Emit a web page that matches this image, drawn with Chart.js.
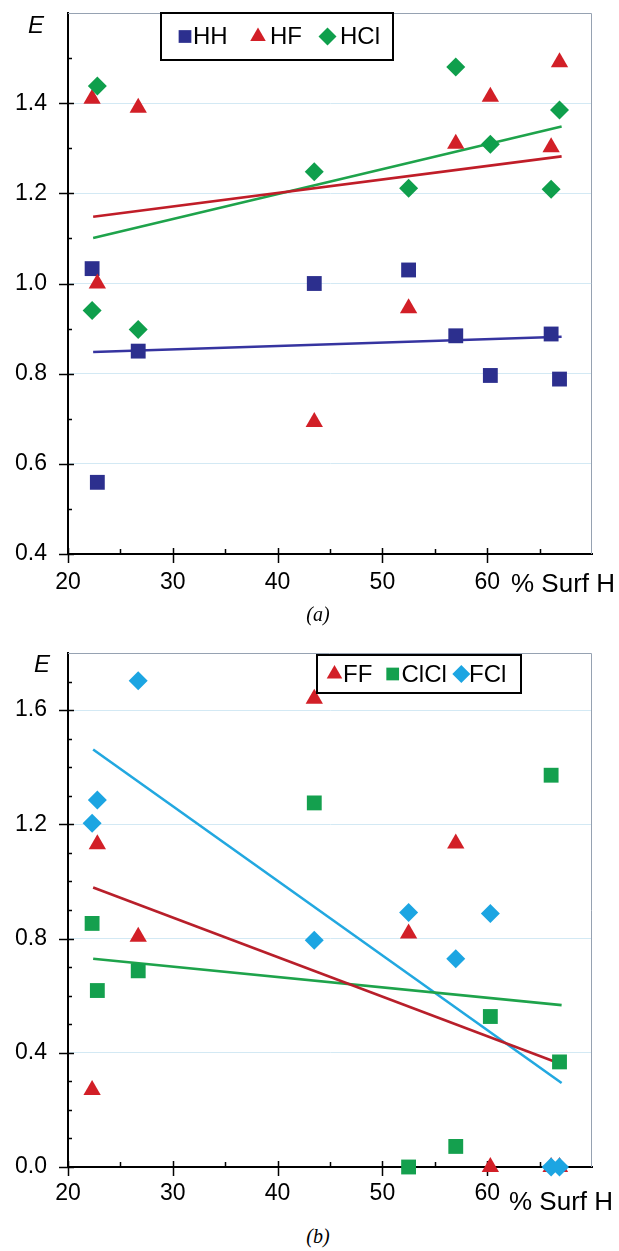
<!DOCTYPE html>
<html>
<head>
<meta charset="utf-8">
<script src="https://cdn.jsdelivr.net/npm/chart.js@4.4.1/dist/chart.umd.min.js"></script>
<style>
  html, body { margin: 0; padding: 0; background: #fff; }
  #page { position: relative; width: 619px; height: 1251px; overflow: hidden; }
  canvas { position: absolute; left: 0; }
  .cap { position: absolute; left: 0; width: 636px; text-align: center;
         font: italic 20px "Liberation Serif", "Times New Roman", serif; line-height: 22px; }
</style>
</head>
<body>
<div id="page">
  <canvas id="chartA" width="619" height="605" style="top:0"></canvas>
  <canvas id="chartB" width="619" height="605" style="top:620px"></canvas>
  <div class="cap" style="top:603px">(a)</div>
  <div class="cap" style="top:1225px">(b)</div>
</div>
<script>
// % Surf H of the nine molecules (shared by every pair)
const surfH = [22.3, 22.8, 26.7, 43.5, 52.5, 57.0, 60.3, 66.1, 66.9];

// panel (a)
const eHH  = [1.033, 0.559, 0.85, 1.0, 1.03, 0.884, 0.796, 0.888, 0.788];
const eHF  = [1.41, 1.0, 1.39, 0.693, 0.945, 1.31, 1.414, 1.302, 1.491];
const eHCl = [0.94, 1.438, 0.898, 1.248, 1.211, 1.48, 1.309, 1.209, 1.385];

// panel (b)
const eFF   = [0.27, 1.13, 0.806, 1.64, 0.818, 1.133, 0.0, 0.0, 0.0];
const eClCl = [0.853, 0.618, 0.687, 1.275, 0.0, 0.072, 0.527, 1.372, 0.368];
const eFCl  = [1.204, 1.285, 1.703, 0.794, 0.891, 0.729, 0.888, 0.0, 0.0];

// trend lines, end points
const trendX    = [22.4, 67.1];
const trendHH   = [0.848, 0.882];
const trendHF   = [1.148, 1.282];
const trendHCl  = [1.101, 1.348];
const trendFF   = [0.979, 0.360];
const trendClCl = [0.729, 0.567];
const trendFCl  = [1.462, 0.294];

// tick labels
const xLabels  = [20, 30, 40, 50, 60];
const yLabelsA = [0.4, 0.6, 0.8, 1.0, 1.2, 1.4];
const yLabelsB = [0.0, 0.4, 0.8, 1.2, 1.6];

const NAVY = '#2c2f8e', RED = '#d21f27', GREEN = '#0f9f4c', CYAN = '#1ca5e2';
const FONT = '"Liberation Sans", Arial, sans-serif';

const pts = (xs, ys) => xs.map((x, i) => ({ x: x, y: ys[i] }));
const near = (list, v) => list.find(l => Math.abs(l - v) < 1e-6);

function marks(label, ys, style, color, r, order) {
    return {
        type: 'scatter', label: label, data: pts(surfH, ys),
        pointStyle: style, pointRadius: r, pointHoverRadius: r,
        backgroundColor: color, borderColor: color, borderWidth: 0,
        order: order, clip: false
    };
}

function trend(ys, color) {
    return {
        type: 'line', label: '', isTrend: true, data: pts(trendX, ys),
        borderColor: color, borderWidth: 2.6, pointRadius: 0, fill: false,
        order: 10, clip: false
    };
}

// frame, tick marks, "E" and "% Surf H"
const axisDeco = {
    id: 'axisDeco',
    beforeDatasetsDraw(chart, args, o) {
        const { ctx, chartArea: a, scales: { x, y } } = chart;
        ctx.save();
        ctx.strokeStyle = '#96a2b2';
        ctx.lineWidth = 1;
        ctx.beginPath();
        ctx.moveTo(a.left, a.top + 0.5);
        ctx.lineTo(a.right - 0.5, a.top + 0.5);
        ctx.lineTo(a.right - 0.5, a.bottom);
        ctx.stroke();

        ctx.strokeStyle = '#000';
        ctx.lineWidth = 1.5;
        ctx.beginPath();
        y.ticks.forEach(t => {
            if (Math.abs(t.value - y.max) < 1e-6) return;
            const py = Math.round(y.getPixelForValue(t.value)) + 0.5;
            const major = Math.round(t.value * 10) % o.yMajor === 0;
            ctx.moveTo(a.left - (major ? 9 : 0), py);
            ctx.lineTo(a.left + (major ? 6 : 4), py);
        });
        x.ticks.forEach(t => {
            if (Math.abs(t.value - x.max) < 1e-6) return;
            const px = Math.round(x.getPixelForValue(t.value)) + 0.5;
            const major = t.value % 10 === 0;
            ctx.moveTo(px, a.bottom - (major ? 6 : 5));
            ctx.lineTo(px, a.bottom + (major ? 9 : 0));
        });
        ctx.stroke();

        ctx.fillStyle = '#000';
        ctx.textBaseline = 'middle';
        ctx.textAlign = 'center';
        ctx.font = 'italic 24px ' + FONT;
        ctx.fillText('E', o.eX, o.eY);
        ctx.textAlign = 'left';
        ctx.textBaseline = 'alphabetic';
        ctx.font = '26px ' + FONT;
        ctx.fillText('% Surf H', o.unitX, o.unitY);
        ctx.restore();
    }
};

// boxed legend inside the plot
const boxLegend = {
    id: 'boxLegend',
    afterDatasetsDraw(chart, args, o) {
        const ctx = chart.ctx;
        const [bx, by, bw, bh] = o.box;
        const cy = by + bh / 2;
        ctx.save();
        ctx.fillStyle = '#fff';
        ctx.fillRect(bx, by, bw, bh);
        ctx.strokeStyle = '#000';
        ctx.lineWidth = 2;
        ctx.strokeRect(bx, by, bw, bh);
        ctx.font = '24px ' + FONT;
        ctx.textBaseline = 'middle';
        chart.data.datasets.filter(d => !d.isTrend).forEach((d, i) => {
            ctx.fillStyle = d.backgroundColor;
            Chart.helpers.drawPoint(ctx, { pointStyle: d.pointStyle, radius: 9, rotation: 0, borderWidth: 0 },
                o.markX[i], cy);
            ctx.fillStyle = '#000';
            ctx.fillText(d.label, o.textX[i], cy + 1);
        });
        ctx.restore();
    }
};

function makeChart(id, datasets, p) {
    return new Chart(document.getElementById(id), {
        data: { datasets: datasets },
        plugins: [axisDeco, boxLegend],
        options: {
            responsive: false,
            animation: false,
            events: [],
            layout: { padding: { top: p.top, right: 27, left: 0, bottom: 0 } },
            plugins: {
                legend: { display: false },
                tooltip: { enabled: false },
                axisDeco: p.deco,
                boxLegend: p.legend
            },
            scales: {
                x: {
                    type: 'linear', min: 20, max: 70,
                    afterFit: s => { s.height = p.xHeight; s.paddingLeft = 0; s.paddingRight = 0; },
                    grid: { color: 'rgba(0,0,0,0)', drawTicks: false },
                    border: { color: '#000', width: 2 },
                    ticks: {
                        stepSize: 5, autoSkip: false, maxRotation: 0, padding: p.xPad,
                        color: '#000', font: { family: FONT, size: 23 },
                        callback: v => (near(xLabels, v) === undefined ? '' : String(v))
                    }
                },
                y: {
                    type: 'linear', min: p.yMin, max: p.yMax,
                    afterFit: s => { s.width = 68; s.paddingTop = 0; s.paddingBottom = 0; },
                    grid: {
                        drawTicks: false, lineWidth: 1,
                        color: c => (near(p.yLabels, c.tick.value) !== undefined && c.tick.value > p.yMin + 1e-6)
                            ? '#d3e9f4' : 'rgba(0,0,0,0)'
                    },
                    border: { color: '#000', width: 2 },
                    ticks: {
                        stepSize: 0.1, autoSkip: false, padding: 21,
                        color: '#000', font: { family: FONT, size: 23 },
                        callback: v => {
                            const l = near(p.yLabels, v);
                            return l === undefined ? '' : l.toFixed(1);
                        }
                    }
                }
            }
        }
    });
}

makeChart('chartA', [
    marks('HH', eHH, 'rect', NAVY, 10.5, 3),
    marks('HF', eHF, 'triangle', RED, 10, 2),
    marks('HCl', eHCl, 'rectRot', GREEN, 9.5, 1),
    trend(trendHH, '#3634a0'),
    trend(trendHF, '#c01d28'),
    trend(trendHCl, '#1ea34b')
], {
    top: 13, xHeight: 51, xPad: 15, yMin: 0.4, yMax: 1.6, yLabels: yLabelsA,
    deco: { yMajor: 2, eX: 36, eY: 26, unitX: 511, unitY: 592 },
    legend: { box: [161, 13, 232, 47], markX: [185, 258, 327.5], textX: [193, 270, 340] }
});

makeChart('chartB', [
    marks('FF', eFF, 'triangle', RED, 10, 3),
    marks('ClCl', eClCl, 'rect', '#14a04e', 10.5, 2),
    marks('FCl', eFCl, 'rectRot', CYAN, 9.5, 1),
    trend(trendFF, '#b81f2a'),
    trend(trendClCl, '#1ea34b'),
    trend(trendFCl, '#22a8e0')
], {
    top: 33, xHeight: 58, xPad: 13, yMin: 0.0, yMax: 1.8, yLabels: yLabelsB,
    deco: { yMajor: 4, eX: 42, eY: 45, unitX: 509, unitY: 590 },
    legend: { box: [317, 35, 204, 38], markX: [334.5, 392.7, 461.3], textX: [343, 401.5, 469] }
});
</script>
</body>
</html>
